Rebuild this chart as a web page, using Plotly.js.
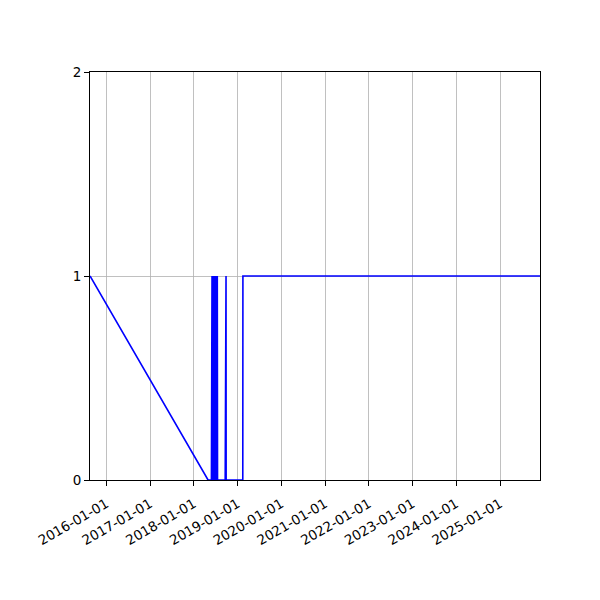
<!DOCTYPE html>
<html>
<head>
<meta charset="utf-8">
<script src="https://cdn.plot.ly/plotly-3.0.1.min.js"></script>
<style>
  body { margin: 0; background: #fff; }
  #chart { width: 600px; height: 600px; }
</style>
</head>
<body>
<div id="chart"></div>
<script>
// status over time
const dates = [
    "2015-08-18", "2018-04-30",
    "2018-05-28", "2018-05-29", "2018-05-31", "2018-06-02", "2018-06-04", "2018-06-06",
    "2018-06-08", "2018-06-10", "2018-06-12", "2018-06-14", "2018-06-16", "2018-06-18",
    "2018-06-20", "2018-06-22", "2018-06-24", "2018-06-26", "2018-06-28", "2018-06-30",
    "2018-07-02", "2018-07-04", "2018-07-06", "2018-07-08", "2018-07-10", "2018-07-12",
    "2018-07-14", "2018-07-16", "2018-07-18",
    "2018-09-20", "2018-09-21", "2018-09-27", "2018-09-28",
    "2019-02-14", "2019-02-15", "2025-12-01"
];
const values = [
    1, 0,
    0, 1, 0, 1, 0, 1,
    0, 1, 0, 1, 0, 1,
    0, 1, 0, 1, 0, 1,
    0, 1, 0, 1, 0, 1,
    0, 1, 0,
    0, 1, 1, 0,
    0, 1, 1
];
const xTicks = ["2016-01-01", "2017-01-01", "2018-01-01", "2019-01-01", "2020-01-01",
    "2021-01-01", "2022-01-01", "2023-01-01", "2024-01-01", "2025-01-01"];
const yTicks = [0, 1, 2];

var data = [
    {
        type: "scatter",
        mode: "lines",
        x: dates,
        y: values,
        line: { color: "#0000ff", width: 1.6 },
        hoverinfo: "skip"
    }
];

var axisStyle = {
    showgrid: true,
    gridcolor: "#b0b0b0",
    gridwidth: 0.8,
    showline: true,
    linecolor: "black",
    linewidth: 1,
    mirror: true,
    ticks: "outside",
    ticklen: 5,
    tickwidth: 1,
    tickcolor: "black",
    zeroline: false,
    tickfont: { family: "DejaVu Sans", size: 13.5, color: "black" }
};

var layout = {
    width: 600,
    height: 600,
    margin: { t: 72, r: 60, l: 90, b: 120 },
    paper_bgcolor: "white",
    plot_bgcolor: "white",
    showlegend: false,
    xaxis: Object.assign({}, axisStyle, {
        type: "date",
        range: ["2015-08-18", "2025-12-01"],
        tickmode: "array",
        tickvals: xTicks,
        ticktext: xTicks,
        tickangle: -30,
        ticklabelstandoff: 5
    }),
    yaxis: Object.assign({}, axisStyle, {
        range: [0, 2],
        tickmode: "array",
        tickvals: yTicks,
        ticktext: yTicks.map(String)
    })
};

Plotly.newPlot("chart", data, layout, { staticPlot: true });
</script>
</body>
</html>
